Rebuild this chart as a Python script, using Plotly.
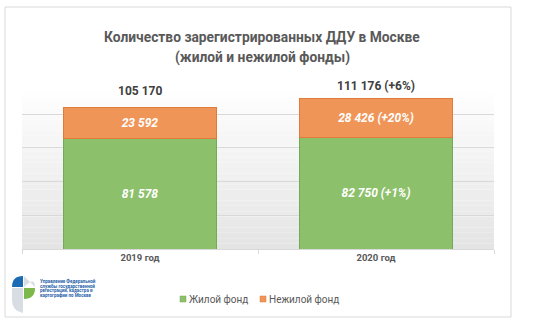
import plotly.graph_objects as go

# ---- data -------------------------------------------------------------
years = ["2019 год", "2020 год"]
series_names = ["Жилой фонд", "Нежилой фонд"]
residential = [81578, 82750]
non_residential = [23592, 28426]
residential_labels = ["81 578", "82 750 (+1%)"]
non_residential_labels = ["23 592", "28 426 (+20%)"]
total_labels = ["105 170", "111 176 (+6%)"]
title_lines = ["Количество зарегистрированных ДДУ в Москве", "(жилой и нежилой фонды)"]
logo_lines = ["Управление Федеральной", "службы государственной",
              "регистрации, кадастра и", "картографии по Москве"]

# ---- style ------------------------------------------------------------
W, H = 548, 327
L, R, T, B = 22, 494, 87, 249          # plot area in pixels
FONT = "Roboto"
GREEN, GREEN_EDGE = "#8dc06b", "#74a955"
ORANGE, ORANGE_EDGE = "#f09558", "#e07b3c"
GRID = "#d9d9d9"
TEXT_GREY = "#595959"
total_shift = [7, 4]
title_y = [37.5, 57]


def px(x):
    return (x - L) / (R - L)


def py(y):
    return (B - y) / (B - T)


totals = [a + b for a, b in zip(residential, non_residential)]

seg_font = dict(family=FONT, size=12, color="white", weight="bold", style="italic")

fig = go.Figure()
fig.add_bar(x=years, y=residential, name=series_names[0],
            marker=dict(color=GREEN, line=dict(color=GREEN_EDGE, width=1)),
            text=residential_labels, textposition="inside",
            insidetextanchor="middle", textfont=seg_font,
            showlegend=False, hoverinfo="skip")
fig.add_bar(x=years, y=non_residential, name=series_names[1],
            marker=dict(color=ORANGE, line=dict(color=ORANGE_EDGE, width=1)),
            text=non_residential_labels, textposition="inside",
            insidetextanchor="middle", textfont=seg_font,
            showlegend=False, hoverinfo="skip")

shapes = []
# outer frame of the card
shapes.append(dict(type="rect", xref="paper", yref="paper", layer="below",
                   x0=px(5), x1=px(511), y0=py(317), y1=py(7),
                   line=dict(color="#d9d9d9", width=1), fillcolor="white"))
# vertical grey gradient of the plot area
n = 30
for i in range(n):
    f = (i + 0.5) / n
    c = int(round(255 - f * (255 - 228)))
    shapes.append(dict(type="rect", xref="paper", yref="paper", layer="below",
                       x0=0, x1=1, y0=1 - (i + 1) / n, y1=1 - i / n,
                       line=dict(width=0), fillcolor=f"rgb({c},{c},{c})"))

# legend squares
legend_x = [180, 260]
for xs, col, edge in zip(legend_x, [GREEN, ORANGE], [GREEN_EDGE, ORANGE_EDGE]):
    shapes.append(dict(type="rect", xref="paper", yref="paper",
                       x0=px(xs), x1=px(xs + 6), y0=py(302), y1=py(296),
                       line=dict(color=edge, width=0.5), fillcolor=col))


def path(points, curves):
    # points: list of (x, y) pixel points; curves: dict index->control point
    s = ""
    for k, (x, y) in enumerate(points):
        if k == 0:
            s += f"M{px(x)},{py(y)}"
        elif k in curves:
            cx, cy = curves[k]
            s += f" Q{px(cx)},{py(cy)} {px(x)},{py(y)}"
        else:
            s += f" L{px(x)},{py(y)}"
    return s + " Z"


# emblem of the agency
logo = [
    ([(12, 287), (23, 276), (23, 287)], {1: (12, 276)}, "#1c69b4"),
    ([(24, 276), (24, 287), (35, 287)], {2: (35, 276)}, "#d8dde3"),
    ([(24, 288), (35, 288), (24, 299)], {2: (35, 299)}, "#7cb84a"),
    ([(12, 288), (23, 288), (23, 313), (12, 300)], {3: (12, 311)}, "#d8dde3"),
]
for pts, cv, col in logo:
    shapes.append(dict(type="path", xref="paper", yref="paper",
                       path=path(pts, cv), fillcolor=col, line=dict(width=0)))

annotations = []
for line, yy in zip(title_lines, title_y):
    annotations.append(dict(x=px(262), y=py(yy), xref="paper", yref="paper",
                            text=line, showarrow=False, xanchor="center",
                            yanchor="middle",
                            font=dict(family=FONT, size=13.8, color=TEXT_GREY,
                                      weight="bold")))
for yr, tot, lab, sh in zip(years, totals, total_labels, total_shift):
    annotations.append(dict(x=yr, y=tot, xref="x", yref="y", text=lab,
                            showarrow=False, yanchor="bottom", yshift=sh,
                            font=dict(family=FONT, size=12, color="#404040",
                                      weight="bold")))
for xs, name in zip(legend_x, series_names):
    annotations.append(dict(x=px(xs + 7), y=py(299), xref="paper", yref="paper",
                            text=name, showarrow=False, xanchor="left",
                            yanchor="middle",
                            font=dict(family=FONT, size=10, color=TEXT_GREY)))
for k, line in enumerate(logo_lines):
    annotations.append(dict(x=px(38), y=py(281 + 4.8 * k), xref="paper",
                            yref="paper", text=line, showarrow=False,
                            xanchor="left", yanchor="middle",
                            font=dict(family=FONT, size=4.5, color="#1f5fa8",
                                      weight="bold")))

fig.update_layout(
    width=W, height=H,
    margin=dict(l=L, r=W - R, t=T, b=H - B, pad=0),
    paper_bgcolor="white", plot_bgcolor="rgba(0,0,0,0)",
    barmode="stack", bargap=0.35,
    font=dict(family=FONT, color=TEXT_GREY),
    xaxis=dict(showline=True, linecolor=GRID, linewidth=1,
               ticks="outside", tickson="boundaries", ticklen=4,
               tickcolor=GRID, showgrid=False,
               tickfont=dict(family=FONT, size=9.5, color=TEXT_GREY,
                             weight="bold")),
    yaxis=dict(range=[0, 120000], dtick=25000, showticklabels=False,
               showgrid=True, gridcolor=GRID, gridwidth=1, zeroline=False),
    shapes=shapes, annotations=annotations,
    uniformtext=dict(mode="show", minsize=8),
)

fig.write_html("out.html")
